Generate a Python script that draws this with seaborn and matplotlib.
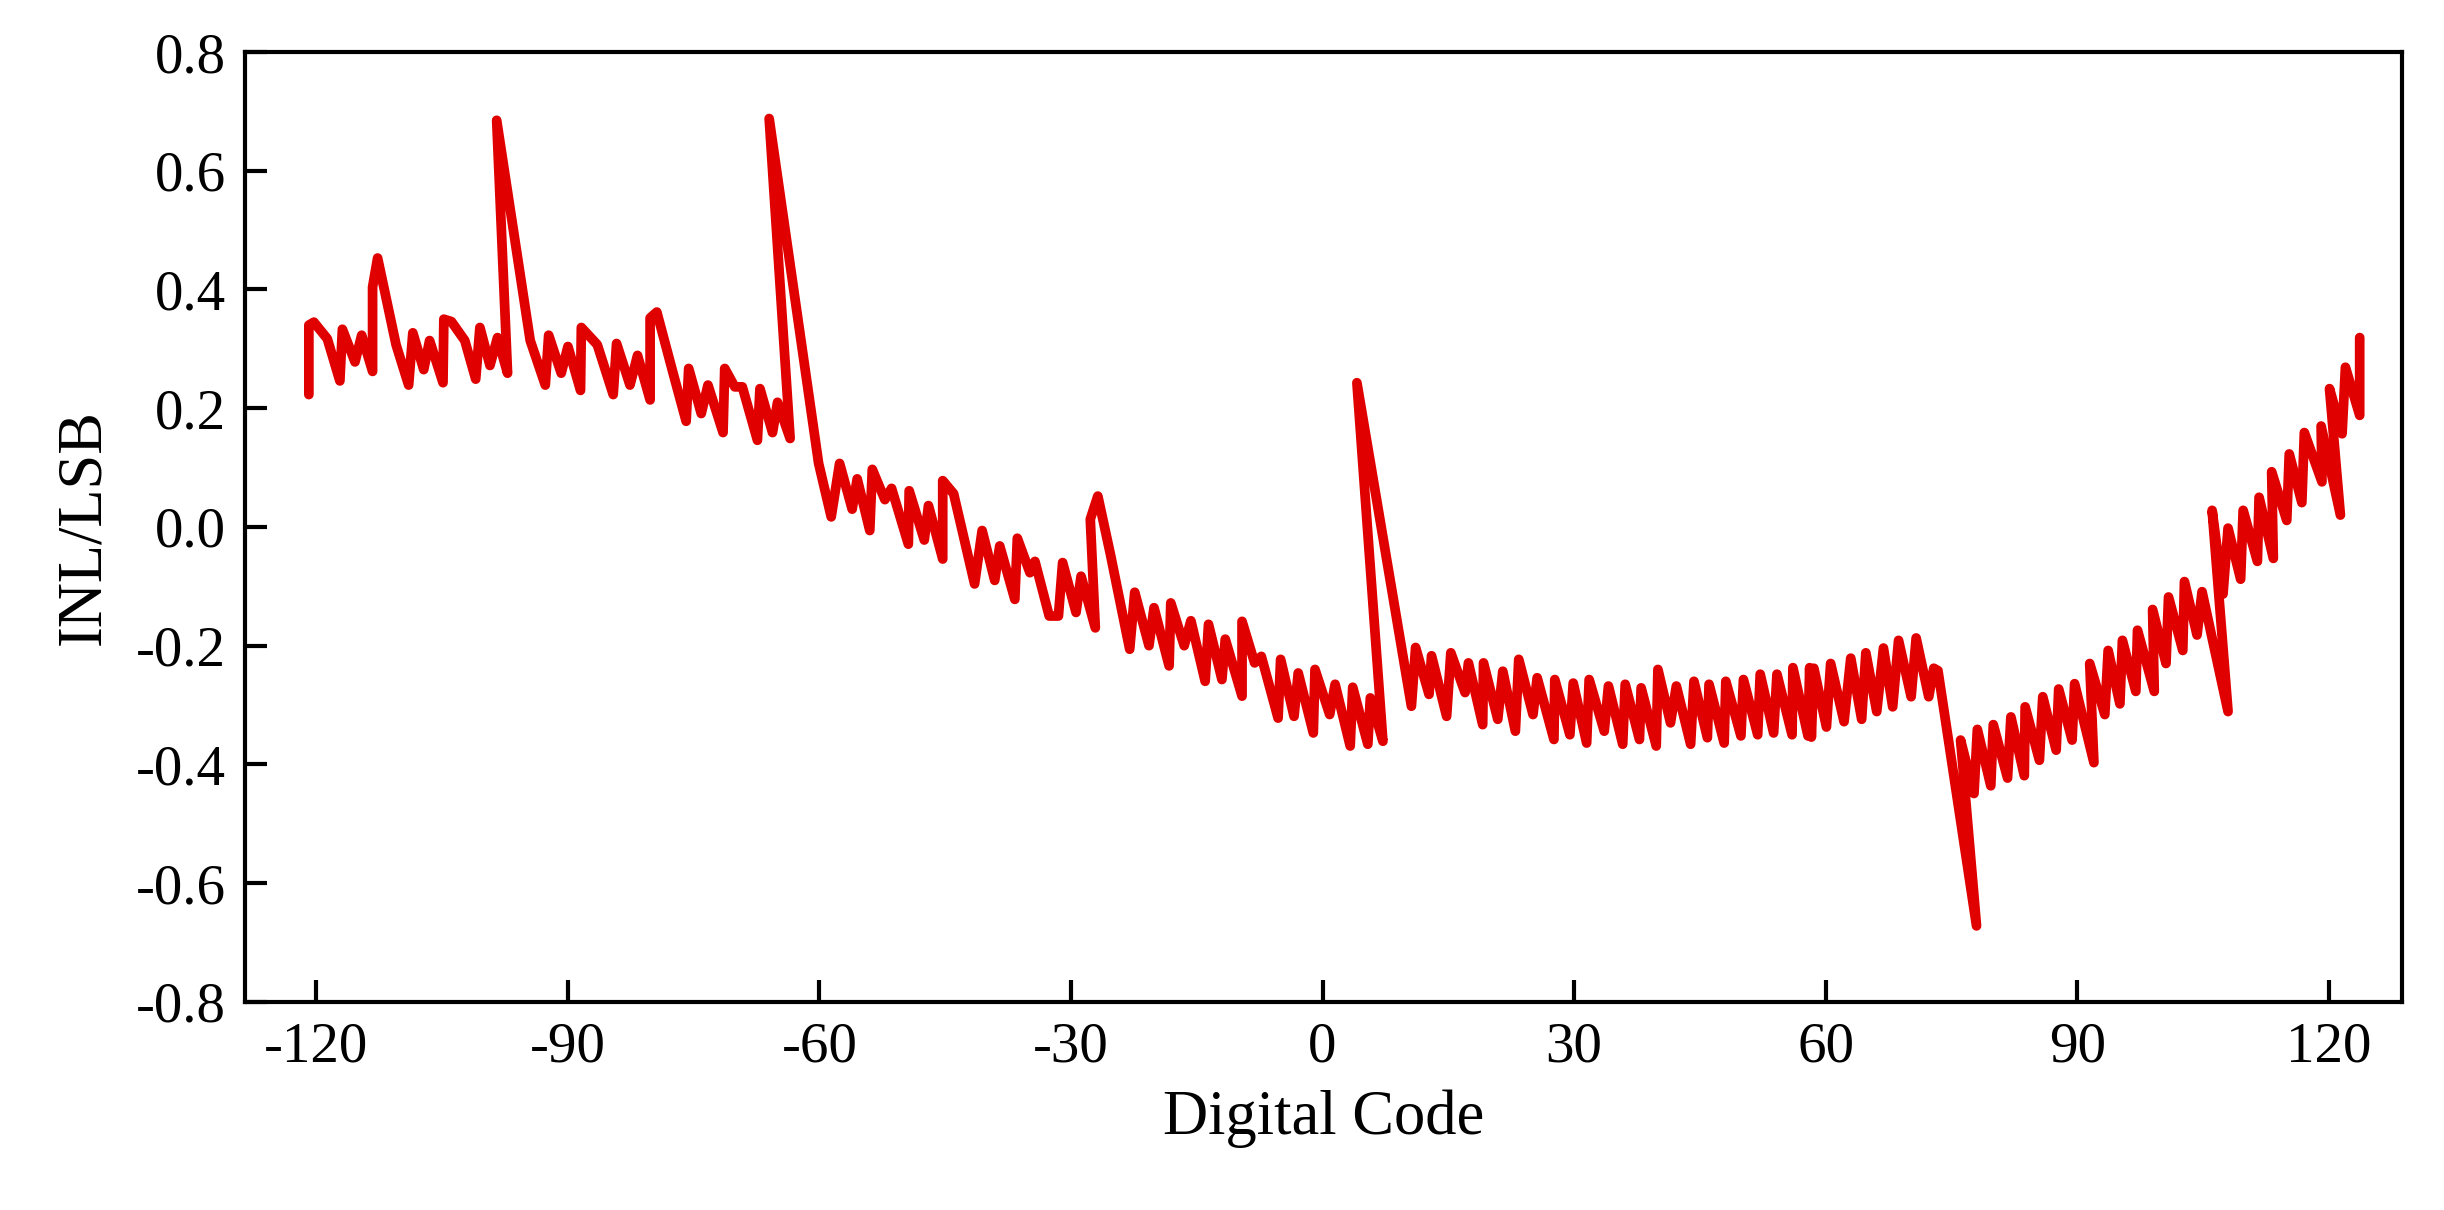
import matplotlib
matplotlib.use("Agg")
import matplotlib.pyplot as plt
import seaborn as sns
import pandas as pd
from matplotlib.ticker import FormatStrFormatter

sns.set_style("ticks")
plt.rcParams['font.family'] = ['Liberation Serif', 'DejaVu Serif']
plt.rcParams['axes.unicode_minus'] = False
plt.rcParams['text.color'] = 'black'
plt.rcParams['axes.labelcolor'] = 'black'
plt.rcParams['xtick.color'] = 'black'
plt.rcParams['ytick.color'] = 'black'

code = [-120.9, -120.9, -120.3, -118.7, -117.2, -116.9, -115.4, -114.6, -113.3, -113.3, -112.7, -110.5,
        -109.0, -108.5, -107.2, -106.5, -104.9, -104.8, -103.9, -102.3, -101.0, -100.5, -99.3, -98.4, -97.2,
        -98.5, -94.5, -92.7, -92.3, -90.8, -90.0, -88.5, -88.4, -86.5, -84.6, -84.2, -82.6, -81.7, -80.2,
        -80.2, -79.4, -77.4, -75.9, -75.6, -74.1, -73.3, -71.5, -71.3, -70.1, -69.2, -67.4, -67.1, -65.6,
        -65.0, -63.5, -66.0, -60.1, -58.6, -57.6, -56.1, -55.5, -54.0, -53.7, -52.2, -51.4, -49.4, -49.3,
        -47.5, -47.0, -45.3, -45.3, -44.0, -41.5, -40.6, -39.1, -38.5, -36.7, -36.4, -34.9, -34.3, -32.6,
        -31.5, -31.0, -29.4, -28.8, -27.1, -27.7, -26.8, -25.3, -23.0, -22.4, -20.7, -20.1, -18.3, -18.1,
        -16.5, -15.7, -14.0, -13.6, -12.0, -11.6, -9.6, -9.6, -8.1, -7.3, -5.3, -5.0, -3.4, -2.9, -1.1,
        -0.9, 0.85, 1.5, 3.3, 3.6, 5.4, 5.7, 7.2, 4.1, 10.6, 11.1, 12.7, 13.0, 14.8, 15.3, 17.0, 17.4,
        19.1, 19.2, 20.9, 21.5, 23.0, 23.4, 25.1, 25.6, 27.6, 27.7, 29.5, 29.9, 31.5, 31.8, 33.6, 34.1,
        35.8, 36.1, 37.8, 38.0, 39.8, 40.0, 41.5, 42.2, 43.9, 44.3, 45.9, 46.1, 47.9, 48.1, 49.9, 50.2,
        51.9, 52.2, 53.8, 54.2, 56.0, 56.1, 57.9, 58.1,
        58.3, 58.6, 60.1, 60.6, 62.2, 63.0, 64.3, 64.8, 66.1, 66.9, 68.0, 68.7, 70.2, 70.8, 72.3, 72.9,
        73.4, 78.0, 76.1, 77.7, 78.1, 79.7, 80.0, 81.7, 82.1, 83.7, 83.8, 85.5, 85.9, 87.5, 87.8, 89.4,
        89.7, 92.0, 91.5, 93.3, 93.7, 95.1, 95.4, 97.0, 97.2, 99.2, 99.0, 100.6, 100.9, 102.6, 102.8,
        104.3, 104.9, 108.0, 106.1, 107.4, 108.0, 109.5, 109.8, 111.5, 111.7, 113.4, 113.2, 115.0, 115.3,
        116.8, 117.1, 119.2, 119.1, 121.4, 120.1, 121.6, 122.0, 123.7, 123.7]

inl = [0.223, 0.340, 0.345, 0.317, 0.246, 0.333, 0.278, 0.323, 0.262, 0.404, 0.453, 0.307,
       0.239, 0.327, 0.265, 0.314, 0.243, 0.350, 0.346, 0.314, 0.249, 0.336, 0.272, 0.319, 0.259,
       0.685, 0.314, 0.239, 0.323, 0.259, 0.304, 0.230, 0.336, 0.307, 0.223, 0.309, 0.239, 0.289, 0.214,
       0.352, 0.362, 0.256, 0.178, 0.267, 0.191, 0.239, 0.159, 0.267, 0.236, 0.236, 0.146, 0.233, 0.159,
       0.210, 0.149, 0.688, 0.107, 0.017, 0.107, 0.030, 0.081, -0.006, 0.097, 0.046, 0.065, -0.029, 0.061,
       -0.022, 0.036, -0.054, 0.078, 0.056, -0.096, -0.006, -0.090, -0.032, -0.122, -0.019, -0.077, -0.058, -0.150,
       -0.150, -0.060, -0.144, -0.083, -0.170, 0.013, 0.052, -0.046, -0.206, -0.110, -0.200, -0.136, -0.234, -0.128,
       -0.200, -0.158, -0.260, -0.164, -0.257, -0.189, -0.285, -0.159, -0.229, -0.218, -0.322, -0.223, -0.319, -0.246, -0.347,
       -0.240, -0.316, -0.265, -0.369, -0.270, -0.366, -0.288, -0.361, 0.243, -0.302, -0.203, -0.282, -0.217, -0.319, -0.212, -0.279, -0.229,
       -0.333, -0.229, -0.324, -0.243, -0.344, -0.223, -0.316, -0.254, -0.358, -0.257, -0.350, -0.263, -0.364, -0.257, -0.344, -0.268,
       -0.366, -0.265, -0.358, -0.271, -0.369, -0.240, -0.330, -0.268, -0.366, -0.260, -0.355, -0.265, -0.364, -0.260, -0.352, -0.257,
       -0.350, -0.248, -0.347, -0.248, -0.350, -0.237, -0.352, -0.237,
       -0.354, -0.238, -0.337, -0.230, -0.328, -0.221, -0.324, -0.212, -0.311, -0.204, -0.303, -0.191, -0.286, -0.187, -0.286, -0.238,
       -0.242, -0.672, -0.359, -0.449, -0.341, -0.436, -0.333, -0.423, -0.320, -0.419, -0.303, -0.393, -0.286, -0.376, -0.273, -0.359,
       -0.264, -0.397, -0.230, -0.316, -0.208, -0.298, -0.191, -0.277, -0.174, -0.277, -0.139, -0.230, -0.118, -0.208, -0.092,
       -0.182, -0.109, -0.311, 0.028, -0.113, -0.002, -0.088, 0.028, -0.058, 0.050, -0.053, 0.093, 0.011, 0.123,
       0.041, 0.159, 0.076, 0.170, 0.020, 0.233, 0.157, 0.269, 0.188, 0.319]

x_ticks = [-120, -90, -60, -30, 0, 30, 60, 90, 120]
y_ticks = [-0.8, -0.6, -0.4, -0.2, 0.0, 0.2, 0.4, 0.6, 0.8]

df = pd.DataFrame({"Digital Code": code, "INL/LSB": inl})

fig = plt.figure(figsize=(24.44, 12.10), dpi=100)
ax = fig.add_axes([0.1003, 0.172, 0.8827, 0.785])
sns.lineplot(data=df, x="Digital Code", y="INL/LSB", sort=False, estimator=None,
             color="#e00000", linewidth=7, ax=ax)

ax.set_xlim(-128.5, 128.8)
ax.set_ylim(-0.8, 0.8)
ax.set_xticks(x_ticks)
ax.set_yticks(y_ticks)
ax.yaxis.set_major_formatter(FormatStrFormatter('%.1f'))
ax.tick_params(direction='in', length=16, width=3, labelsize=41, pad=14,
               top=False, right=False)
for s in ax.spines.values():
    s.set_linewidth(3)
    s.set_color('black')
ax.set_xlabel("Digital Code", fontsize=45, labelpad=12)
ax.set_ylabel("INL/LSB", fontsize=45, labelpad=16)

fig.savefig("out.png", dpi=100)
